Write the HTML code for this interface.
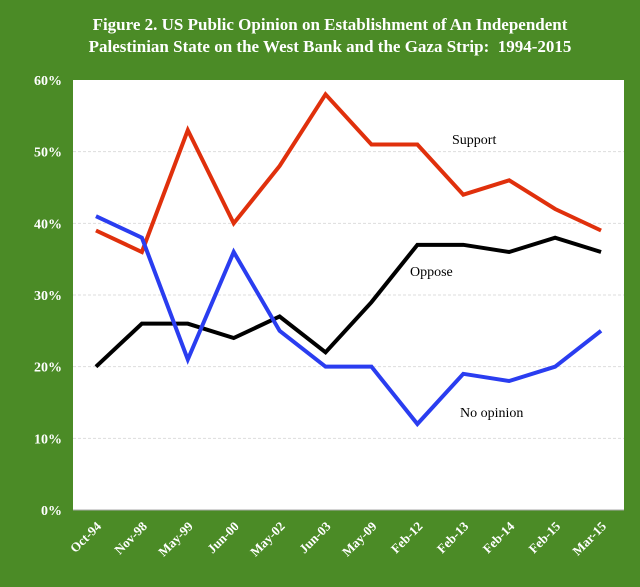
<!DOCTYPE html>
<html><head><meta charset="utf-8"><style>
body{margin:0;background:#4b8b26;}
svg{display:block;font-family:"Liberation Serif",serif;}
</style></head><body>
<svg width="640" height="587">
<rect width="640" height="587" fill="#4b8b26"/>
<text x="330" y="30" text-anchor="middle" fill="#fff" font-size="17" font-weight="bold">Figure 2. US Public Opinion on Establishment of An Independent</text>
<text x="330" y="52" text-anchor="middle" fill="#fff" font-size="17" font-weight="bold">Palestinian State on the West Bank and the Gaza Strip:&#160; 1994-2015</text>
<rect x="73" y="80" width="551" height="430" fill="#fff"/>
<g id="grid"></g><g id="ylab"></g><g id="xlab"></g><g id="lines"></g>
<text x="452" y="144" font-size="14" fill="#000">Support</text>
<text x="410" y="276" font-size="14" fill="#000">Oppose</text>
<text x="460" y="417" font-size="14" fill="#000">No opinion</text>
</svg>
<script>
const categories=["Oct-94","Nov-98","May-99","Jun-00","May-02","Jun-03","May-09","Feb-12","Feb-13","Feb-14","Feb-15","Mar-15"];
const support=[39,36,53,40,48,58,51,51,44,46,42,39];
const oppose=[20,26,26,24,27,22,29,37,37,36,38,36];
const noOpinion=[41,38,21,36,25,20,20,12,19,18,20,25];
const yTicks=[0,10,20,30,40,50,60];
const NS="http://www.w3.org/2000/svg";
const L=73,T=80,W=551,H=430;
const y=v=>T+H-v/60*H;
const x=i=>L+W/categories.length*(i+0.5);
function mk(t,a,p){const e=document.createElementNS(NS,t);for(const k in a)e.setAttribute(k,a[k]);document.getElementById(p).appendChild(e);return e;}
yTicks.forEach(v=>{
 if(v>0&&v<60){const g=mk('line',{x1:L,x2:L+W,y1:y(v),y2:y(v),stroke:'#ddd','stroke-dasharray':'3,2'},'grid');
 
 }
 const t=mk('text',{x:62,y:y(v)+5,'text-anchor':'end',fill:'#fff','font-size':14,'font-weight':'bold'},'ylab');t.textContent=v+'%';
 
 
});
mk('line',{x1:L,x2:L+W,y1:T+H,y2:T+H,stroke:'#aaa'},'grid');
categories.forEach((c,i)=>{
 const t=mk('text',{x:x(i)+6,y:527,'text-anchor':'end',fill:'#fff','font-size':13,'font-weight':'bold',transform:`rotate(-45 ${x(i)+6} 527)`},'xlab');t.textContent=c;
 
 
});
[[support,'#e0300c','support-line'],[oppose,'#000','oppose-line'],[noOpinion,'#2a3df0','no-opinion-line']].forEach(([d,c,n])=>{
 const p=mk('polyline',{points:d.map((v,i)=>x(i)+','+y(v)).join(' '),fill:'none',stroke:c,'stroke-width':4,'stroke-linejoin':'miter'},'lines');
 
 
});
</script>
</body></html>
